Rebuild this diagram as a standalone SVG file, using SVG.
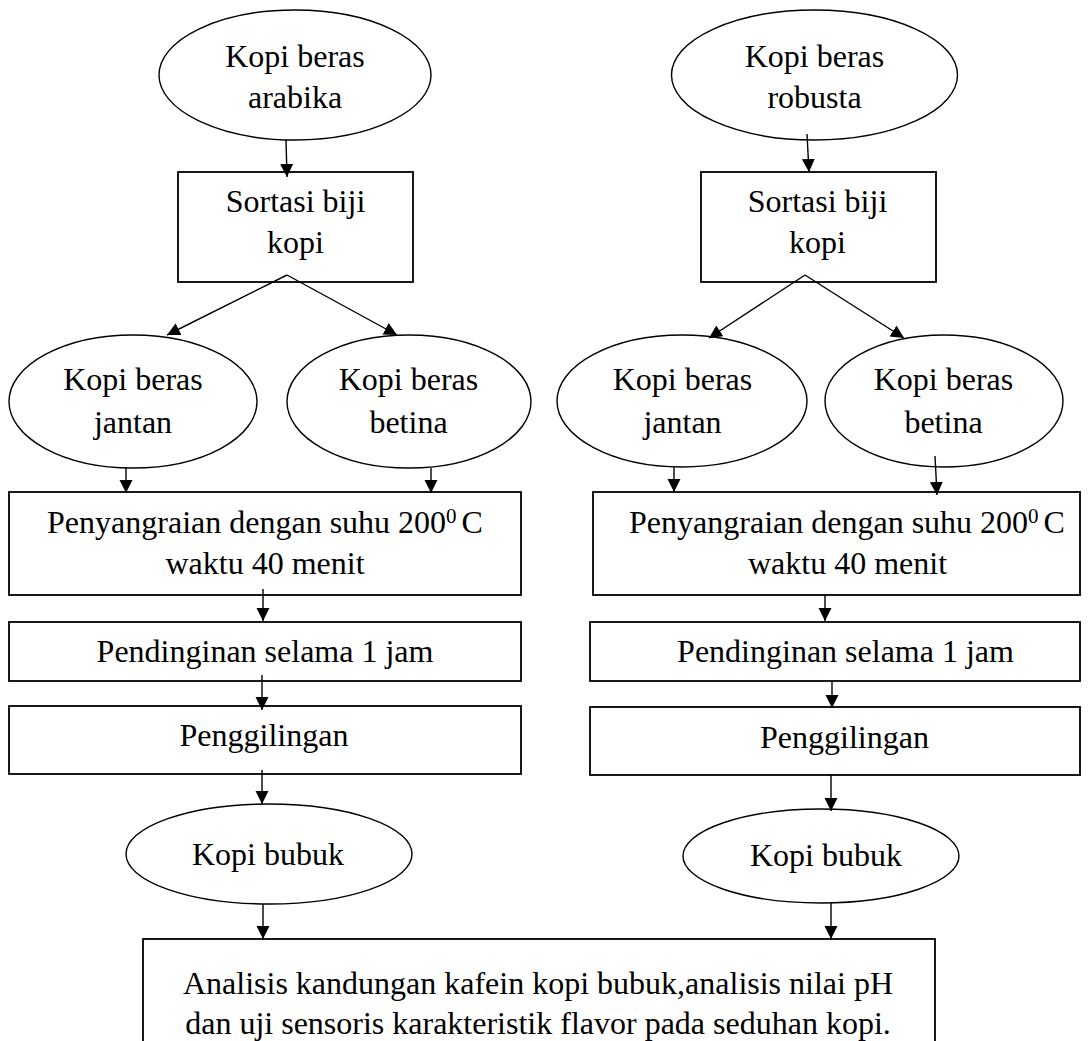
<svg xmlns="http://www.w3.org/2000/svg" width="1089" height="1041" viewBox="0 0 1089 1041">
<style>
  .node ellipse, .node rect { fill: #ffffff; stroke: #000000; }
  .node ellipse { stroke-width: 1.4; }
  .node rect { stroke-width: 1.8; }
  .node text { font-family: "Liberation Serif", "Times New Roman", serif; font-size: 32px; fill: #000000; text-anchor: middle; }
  .sup { font-size: 21px; }
  #connectors line { stroke: #000000; stroke-width: 1.4; fill: none; marker-end: url(#arrow); }
</style>
<defs>
  <marker id="arrow" markerUnits="userSpaceOnUse" markerWidth="14" markerHeight="14" refX="13" refY="6.5" orient="auto">
    <path d="M0,0 L13,6.5 L0,13 z" fill="#000000"/>
  </marker>
</defs>
<rect width="1089" height="1041" fill="#ffffff"/>

<g id="n-arabika" class="node">
  <ellipse cx="295" cy="75" rx="136" ry="65"/>
  <text x="295" y="67">Kopi beras</text>
  <text x="295" y="108">arabika</text>
</g>
<g id="n-robusta" class="node">
  <ellipse cx="814.5" cy="75" rx="143" ry="65"/>
  <text x="814.5" y="67">Kopi beras</text>
  <text x="814.5" y="108">robusta</text>
</g>
<g id="n-sortasi-l" class="node">
  <rect x="178" y="172" width="235" height="110"/>
  <text x="295.5" y="212">Sortasi biji</text>
  <text x="295.5" y="253">kopi</text>
</g>
<g id="n-sortasi-r" class="node">
  <rect x="701" y="172" width="235" height="110"/>
  <text x="817.5" y="212">Sortasi biji</text>
  <text x="817.5" y="253">kopi</text>
</g>
<g id="n-jantan-l" class="node">
  <ellipse cx="133" cy="401.5" rx="124" ry="66.5"/>
  <text x="133" y="390">Kopi beras</text>
  <text x="133" y="433">jantan</text>
</g>
<g id="n-betina-l" class="node">
  <ellipse cx="409" cy="401.5" rx="122" ry="66.5"/>
  <text x="408.5" y="390">Kopi beras</text>
  <text x="408.5" y="433">betina</text>
</g>
<g id="n-jantan-r" class="node">
  <ellipse cx="682" cy="401" rx="125" ry="66"/>
  <text x="682.5" y="390">Kopi beras</text>
  <text x="682.5" y="433">jantan</text>
</g>
<g id="n-betina-r" class="node">
  <ellipse cx="944" cy="401" rx="119" ry="66"/>
  <text x="943.5" y="390">Kopi beras</text>
  <text x="943.5" y="433">betina</text>
</g>
<g id="n-sangrai-l" class="node">
  <rect x="9" y="492" width="512" height="103"/>
  <text x="265" y="533">Penyangraian dengan suhu 200<tspan class="sup" dy="-10">0</tspan><tspan dy="10" dx="5">C</tspan></text>
  <text x="265" y="574">waktu 40 menit</text>
</g>
<g id="n-sangrai-r" class="node">
  <rect x="593" y="492" width="487" height="103"/>
  <text x="847" y="533">Penyangraian dengan suhu 200<tspan class="sup" dy="-10">0</tspan><tspan dy="10" dx="5">C</tspan></text>
  <text x="847.5" y="574">waktu 40 menit</text>
</g>
<g id="n-dingin-l" class="node">
  <rect x="9" y="622" width="512" height="59"/>
  <text x="265" y="662">Pendinginan selama 1 jam</text>
</g>
<g id="n-dingin-r" class="node">
  <rect x="590" y="622" width="490" height="59"/>
  <text x="845.5" y="662">Pendinginan selama 1 jam</text>
</g>
<g id="n-giling-l" class="node">
  <rect x="9" y="706" width="512" height="68"/>
  <text x="264" y="746">Penggilingan</text>
</g>
<g id="n-giling-r" class="node">
  <rect x="590" y="707" width="490" height="68"/>
  <text x="844.5" y="748">Penggilingan</text>
</g>
<g id="n-bubuk-l" class="node">
  <ellipse cx="269" cy="854" rx="143" ry="50"/>
  <text x="268" y="865">Kopi bubuk</text>
</g>
<g id="n-bubuk-r" class="node">
  <ellipse cx="821" cy="856" rx="138" ry="47"/>
  <text x="826" y="866">Kopi bubuk</text>
</g>
<g id="n-analisis" class="node">
  <rect x="143" y="939" width="792" height="130"/>
  <text x="538" y="994">Analisis kandungan kafein kopi bubuk,analisis nilai pH</text>
  <text x="538" y="1034">dan uji sensoris karakteristik flavor pada seduhan kopi.</text>
</g>

<g id="connectors">
  <line x1="286" y1="140" x2="287" y2="177"/>
  <line x1="287" y1="275" x2="167" y2="335"/>
  <line x1="287" y1="275" x2="397" y2="335"/>
  <line x1="126" y1="468" x2="126" y2="493"/>
  <line x1="431" y1="468" x2="431" y2="493"/>
  <line x1="263" y1="589" x2="263" y2="621"/>
  <line x1="262" y1="675" x2="262" y2="710"/>
  <line x1="262" y1="770" x2="262" y2="804"/>
  <line x1="263" y1="904" x2="263" y2="939"/>

  <line x1="807" y1="134" x2="809" y2="172"/>
  <line x1="805" y1="275" x2="709" y2="338"/>
  <line x1="805" y1="275" x2="904" y2="338"/>
  <line x1="674" y1="467" x2="674" y2="492"/>
  <line x1="935" y1="456" x2="937" y2="495"/>
  <line x1="825" y1="595" x2="825" y2="621"/>
  <line x1="832" y1="681" x2="832" y2="708"/>
  <line x1="831" y1="775" x2="831" y2="811"/>
  <line x1="831" y1="903" x2="831" y2="939"/>
</g>
</svg>
